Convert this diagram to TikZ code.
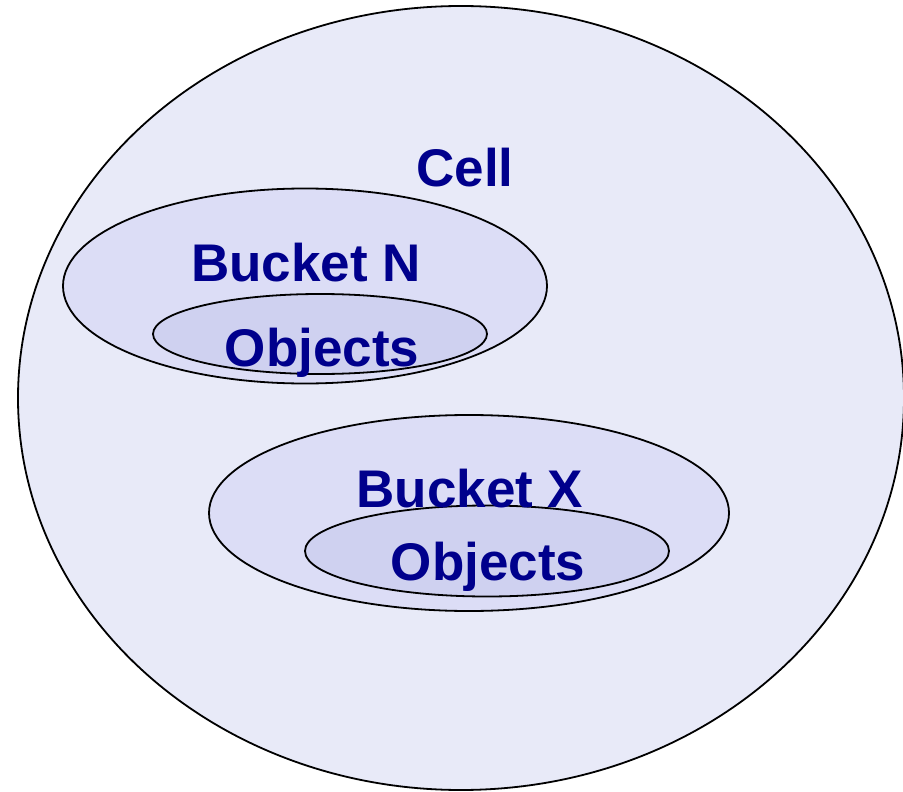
\documentclass[tikz,border=0pt]{standalone}
\usepackage{fontspec}
\setmainfont{Liberation Sans}
\usepackage{tikz}
\usetikzlibrary{shapes.geometric}

\definecolor{cellfill}{RGB}{232,234,248}
\definecolor{bucketfill}{RGB}{220,221,246}
\definecolor{objfill}{RGB}{207,209,240}
\definecolor{labelblue}{RGB}{0,0,140}

\begin{document}
\begin{tikzpicture}[
  x=1pt, y=-1pt,
  region/.style={
    draw,
    ellipse,
    line width=1.8pt,
    inner sep=0pt
  },
  tag/.style={
    anchor=base,
    inner sep=0pt,
    text=labelblue,
    font=\fontsize{53}{60}\selectfont\bfseries
  }
]
\useasboundingbox (0,0) rectangle (903,792);
\clip (0,0) rectangle (903,792);

% Cell
\node[region,fill=cellfill,minimum width=886,minimum height=784] (cell) at (461,398) {};
\node[tag] (celllabel) at (465,186) {Cell};

% Bucket N
\node[region,fill=bucketfill,minimum width=484,minimum height=195] (bucketN) at (305,286) {};
\node[region,fill=objfill,minimum width=334,minimum height=80] (objectsN) at (320,334) {};
\node[tag] (bucketNlabel) at (306,281) {Bucket N};
\node[tag] (objectsNlabel) at (322,366) {Objects};

% Bucket X
\node[region,fill=bucketfill,minimum width=520,minimum height=196] (bucketX) at (469,513) {};
\node[region,fill=objfill,minimum width=364,minimum height=91] (objectsX) at (487,551) {};
\node[tag] (bucketXlabel) at (470,507) {Bucket X};
\node[tag] (objectsXlabel) at (488,580) {Objects};

\end{tikzpicture}
\end{document}
